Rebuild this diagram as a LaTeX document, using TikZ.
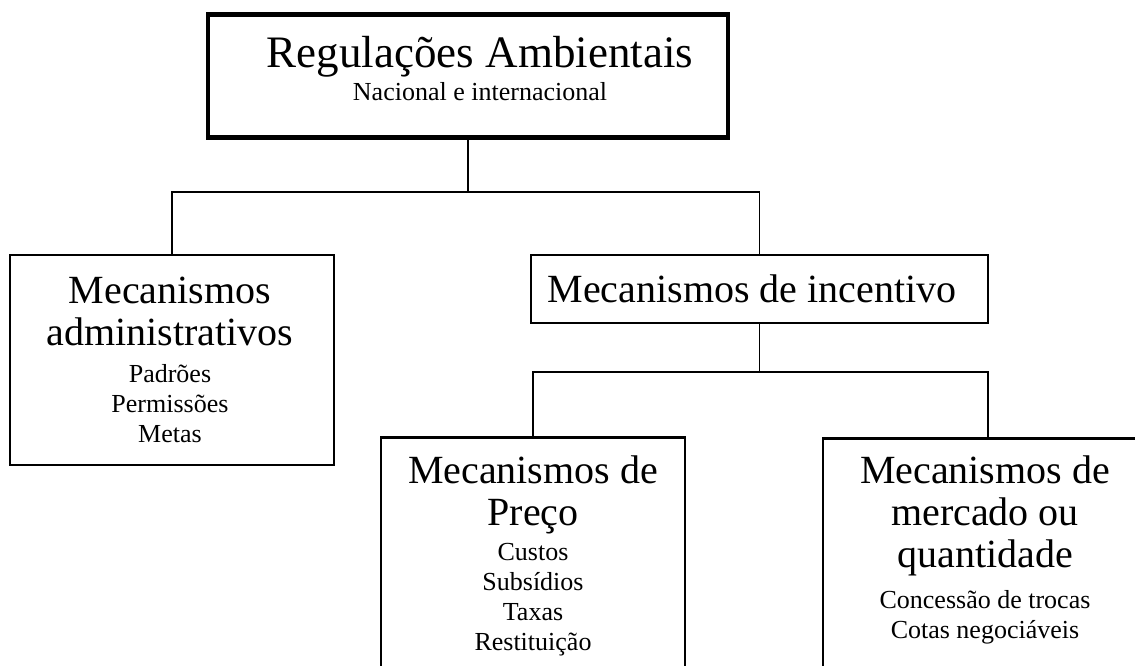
\documentclass[tikz,border=0pt]{standalone}
\usepackage{fontspec}
\setmainfont{Liberation Serif}
\usetikzlibrary{positioning}

\newcommand{\grande}{\fontsize{40}{42}\selectfont}
\newcommand{\pequena}{\fontsize{26}{30}\selectfont}

\begin{document}
\begin{tikzpicture}[x=1pt,y=-1pt,
  caixa/.style={draw,line width=2.6pt,inner sep=0pt},
  liga/.style={line width=1.6pt},
  texto/.style={text width=#1,inner sep=0pt,anchor=base,
    execute at begin node={\centering\spaceskip=0pt\xspaceskip=0pt}}]
\useasboundingbox (0,0) rectangle (1135,665);
% caixas
\node [caixa,line width=4.8pt,minimum width=520pt,minimum height=123pt] (reg) at (468,76) {};
\node [caixa,minimum width=324pt,minimum height=210pt] (adm) at (172,360) {};
\node [caixa,minimum width=457pt,minimum height=68pt] (inc) at (759.5,289) {};
\node [caixa,minimum width=304pt,minimum height=260pt,anchor=north] (preco) at (533,436) {};
\node [caixa,minimum width=330pt,minimum height=260pt,anchor=north] (merc) at (988,437) {};
% textos
\node [texto=500pt] (reg-t) at (480,67) {\fontsize{45}{50}\selectfont Regulações Ambientais\par
  \vspace{3pt}\pequena Nacional e internacional\par};
\node [texto=310pt] (adm-t) at (170,303) {\grande Mecanismos\\ administrativos\par
  \vspace{7pt}\pequena Padrões\\ Permissões\\ Metas\par};
\node [texto=450pt] (inc-t) at (752,302) {\grande Mecanismos de incentivo\par};
\node [texto=300pt] (preco-t) at (533,483) {\grande Mecanismos de\\ Preço\par
  \vspace{5pt}\pequena Custos\\ Subsídios\\ Taxas\\ Restituição\par};
\node [texto=320pt] (merc-t) at (985,483) {\grande Mecanismos de\\ mercado ou\\ quantidade\par
  \vspace{11pt}\pequena Concessão de trocas\\ Cotas negociáveis\par};
% ligacoes
\coordinate (j1) at (468,192);
\coordinate (j2) at (759.5,372);
\draw [liga] (reg.south) -- (j1);
\draw [liga] (adm.north) |- (j1) -| (inc.north);
\draw [liga] (inc.south) -- (j2);
\draw [liga] (preco.north) |- (j2) -| (merc.north);
\end{tikzpicture}
\end{document}
